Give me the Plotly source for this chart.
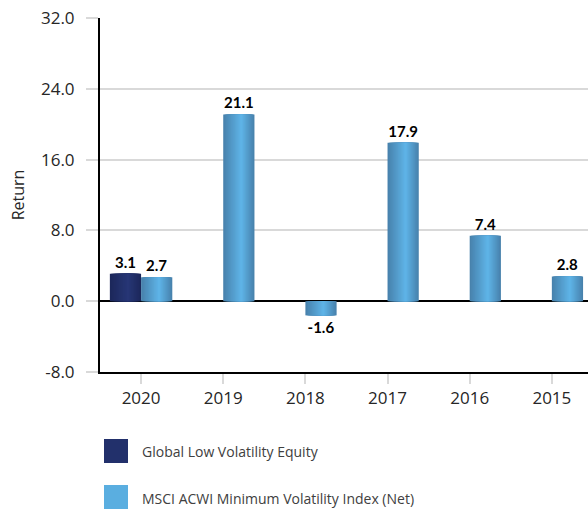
import plotly.graph_objects as go

# Calendar-year returns
years = ["2020", "2019", "2018", "2017", "2016", "2015"]
fund_name = "Global Low Volatility Equity"
index_name = "MSCI ACWI Minimum Volatility Index (Net)"
fund_returns = [3.1, None, None, None, None, None]
index_returns = [2.7, 21.1, -1.6, 17.9, 7.4, 2.8]

y_ticks = [-8, 0, 8, 16, 24, 32]

BAR_W = 0.38          # width of one bar, in category units
N_LAYERS = 14         # layers used to shade each bar like a cylinder
PEAK = 0.58           # where the highlight sits across the bar (0 = left, 1 = right)


def mix(c1, c2, t):
    a = [int(c1[i:i + 2], 16) for i in (1, 3, 5)]
    b = [int(c2[i:i + 2], 16) for i in (1, 3, 5)]
    return "#" + "".join(f"{round(x + (y - x) * t):02x}" for x, y in zip(a, b))


def shaded_bars(values, side, edge, centre):
    """Stack of overlaid bars, each narrower and lighter, giving a rounded look."""
    traces = []
    for k in range(N_LAYERS):
        s = k / N_LAYERS
        w = BAR_W * (1 - s)
        base = -BAR_W if side == "left" else 0.0
        off = base + BAR_W * s * PEAK
        t = k / (N_LAYERS - 1)
        tr = go.Bar(
            x=years, y=values, width=w, offset=off,
            marker=dict(color=mix(edge, centre, t), line=dict(width=0)),
            showlegend=False, hoverinfo="skip" if k else "y",
        )
        if k == 0:
            tr.update(
                text=[f"{v:.1f}" if v is not None else "" for v in values],
                textposition="outside",
                textfont=dict(family="Lato", size=15, color="#000000", weight="bold"),
                cliponaxis=False,
            )
        traces.append(tr)
    return traces


fig = go.Figure()
for tr in shaded_bars(fund_returns, "left", "#1c285b", "#273675"):
    fig.add_trace(tr)
for tr in shaded_bars(index_returns, "right", "#4882ad", "#5eb3e6"):
    fig.add_trace(tr)

# Legend drawn as squares with captions beneath the plot
H = 354.0
W = 488.0
legend_items = [(fund_name, "#22306b", 439), (index_name, "#5aaee0", 485)]
for name, color, top in legend_items:
    fig.add_shape(type="rect", xref="paper", yref="paper",
                  x0=4 / W, x1=28 / W, y0=(372 - top) / H, y1=(372 - top - 24) / H,
                  fillcolor=color, line=dict(width=0))
    fig.add_annotation(text=name, xref="paper", yref="paper",
                       x=40 / W, y=(372 - top - 13) / H, xanchor="left", yanchor="middle",
                       showarrow=False,
                       font=dict(family="Open Sans", size=14, color="#404040"))

fig.update_layout(
    width=588, height=511,
    margin=dict(l=100, r=0, t=18, b=139),
    paper_bgcolor="white", plot_bgcolor="white",
    barmode="overlay",
    showlegend=False,
    font=dict(family="Open Sans", color="#262626"),
    xaxis=dict(
        type="category", range=[-0.5, 5.44],
        showline=True, linecolor="#000000", linewidth=2,
        ticks="outside", ticklen=10, tickcolor="#d9d9d9", tickwidth=2,
        tickfont=dict(family="Open Sans", size=17, color="#262626"),
        showgrid=False, zeroline=False,
    ),
    yaxis=dict(
        range=[-8, 32], tickvals=y_ticks,
        ticktext=[f"{v:.1f}" for v in y_ticks],
        showline=True, linecolor="#000000", linewidth=2,
        ticks="outside", ticklen=12, tickcolor="#d9d9d9", tickwidth=2,
        ticklabelstandoff=8,
        tickfont=dict(family="Open Sans", size=17, color="#262626"),
        showgrid=True, gridcolor="#d9d9d9", gridwidth=2,
        zeroline=True, zerolinecolor="#000000", zerolinewidth=2,
        title=dict(text="Return", font=dict(family="Open Sans", size=16, color="#262626"),
                   standoff=12),
    ),
)

fig.write_html("out.html")
